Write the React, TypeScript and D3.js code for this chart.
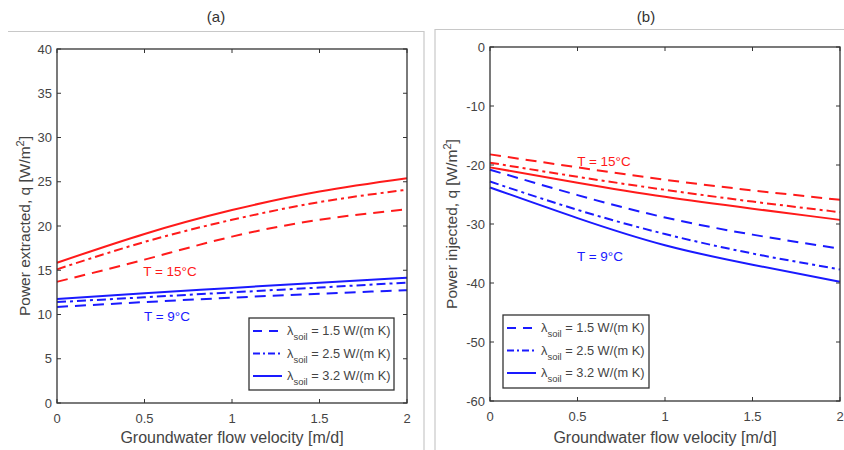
import React from 'react';
import * as d3 from 'd3';

const W = 844;
const H = 450;
const FONT = '"Liberation Sans", Arial, Helvetica, sans-serif';

const velocity = [0, 0.5, 1, 1.5, 2];
const lambdaLabels = ['1.5', '2.5', '3.2'];
const dashes = ['11,7', '9,4,3,4', null];

// panel (a): power extracted [W/m2]
const extracted15 = [
  [13.7, 16.2, 18.8, 20.7, 21.9],
  [15.1, 18.2, 20.7, 22.7, 24.1],
  [15.85, 19.1, 21.8, 23.9, 25.4],
];
const extracted9 = [
  [10.85, 11.4, 11.9, 12.35, 12.75],
  [11.4, 11.95, 12.5, 13.05, 13.6],
  [11.75, 12.4, 13.0, 13.6, 14.15],
];

// panel (b): power injected [W/m2]
const injected15 = [
  [-18.2, -20.4, -22.5, -24.3, -25.9],
  [-19.6, -22.0, -24.2, -26.2, -28.0],
  [-20.4, -23.0, -25.4, -27.4, -29.3],
];
const injected9 = [
  [-20.8, -25.1, -28.9, -31.8, -34.2],
  [-22.8, -27.6, -31.7, -35.0, -37.7],
  [-23.8, -29.0, -33.6, -36.9, -39.8],
];

const xTicks = [0, 0.5, 1, 1.5, 2];
const yTicksA = [0, 5, 10, 15, 20, 25, 30, 35, 40];
const yTicksB = [0, -10, -20, -30, -40, -50, -60];

const RED = '#ff1a1a';
const BLUE = '#1a1aff';
const AXIS = '#333';
const TEXT = '#444';

type PanelProps = {
  title: string;
  titleX: number;
  box: { left: number; right: number; top: number; bottom: number };
  yDomain: [number, number];
  yTicks: number[];
  yLabel: string;
  yLabelX: number;
  hot: number[][];
  cold: number[][];
  hotLabel: { x: number; y: number };
  coldLabel: { x: number; y: number };
  legend: { x: number; y: number; w: number; h: number };
};

function Panel(p: PanelProps) {
  const { left, right, top, bottom } = p.box;
  const x = d3.scaleLinear().domain([0, 2]).range([left, right]);
  const y = d3.scaleLinear().domain(p.yDomain).range([bottom, top]);
  const line = d3
    .line<number>()
    .x((_, i) => x(velocity[i]))
    .y(d => y(d))
    .curve(d3.curveNatural);
  const tick = 4;
  const midY = (top + bottom) / 2;

  return (
    <g fontFamily={FONT}>
      <text x={p.titleX} y={22} textAnchor="middle" fontSize={15} fill="#333">
        {p.title}
      </text>

      {p.hot.map((s, i) => (
        <path key={'h' + i} d={line(s) || ''} fill="none" stroke={RED} strokeWidth={2}
          strokeDasharray={dashes[i] || undefined} />
      ))}
      {p.cold.map((s, i) => (
        <path key={'c' + i} d={line(s) || ''} fill="none" stroke={BLUE} strokeWidth={2}
          strokeDasharray={dashes[i] || undefined} />
      ))}

      <rect x={left} y={top} width={right - left} height={bottom - top} fill="none" stroke={AXIS} strokeWidth={1.3} />

      {xTicks.map(t => (
        <g key={'x' + t}>
          <line x1={x(t)} x2={x(t)} y1={bottom} y2={bottom - tick} stroke={AXIS} />
          <line x1={x(t)} x2={x(t)} y1={top} y2={top + tick} stroke={AXIS} />
          <text x={x(t)} y={bottom + 20} textAnchor="middle" fontSize={13} fill={TEXT}>
            {t}
          </text>
        </g>
      ))}
      {p.yTicks.map(t => (
        <g key={'y' + t}>
          <line x1={left} x2={left + tick} y1={y(t)} y2={y(t)} stroke={AXIS} />
          <line x1={right} x2={right - tick} y1={y(t)} y2={y(t)} stroke={AXIS} />
          <text x={left - 5} y={y(t) + 4.5} textAnchor="end" fontSize={13} fill={TEXT}>
            {t}
          </text>
        </g>
      ))}

      <text x={(left + right) / 2} y={443} textAnchor="middle" fontSize={16} fill={TEXT}>
        Groundwater flow velocity [m/d]
      </text>
      <text transform={`translate(${p.yLabelX},${midY}) rotate(-90)`} textAnchor="middle" fontSize={15.5} fill={TEXT}>
        {p.yLabel}, q [W/m<tspan dy={-6} fontSize={11}>2</tspan><tspan dy={6}>]</tspan>
      </text>

      <text x={p.hotLabel.x} y={p.hotLabel.y} textAnchor="middle" fontSize={13.5} fill={RED}>
        T = 15°C
      </text>
      <text x={p.coldLabel.x} y={p.coldLabel.y} textAnchor="middle" fontSize={13.5} fill={BLUE}>
        T = 9°C
      </text>

      <g transform={`translate(${p.legend.x},${p.legend.y})`}>
        <rect width={p.legend.w} height={p.legend.h} fill="#fff" stroke={AXIS} strokeWidth={1.3} />
        {lambdaLabels.map((lab, i) => {
          const ry = 13 + i * 22.5;
          return (
            <g key={lab}>
              <line x1={4} x2={33} y1={ry} y2={ry} stroke={BLUE} strokeWidth={2}
                strokeDasharray={i === 0 ? '9,7' : i === 1 ? '7,3,2,3' : undefined} />
              <text x={38} y={ry + 4} fontSize={12.8} fill={TEXT}>
                λ<tspan dy={5} fontSize={9.5}>soil</tspan>
                <tspan dy={-5}> = {lab} W/(m K)</tspan>
              </text>
            </g>
          );
        })}
      </g>
    </g>
  );
}

export default function App() {
  return (
    <svg width={W} height={H} style={{ position: 'absolute', left: 0, top: 0, background: '#fff' }}>
      <rect width={W} height={H} fill="#fff" />
      {/* panel frames */}
      <polyline points="8,31.5 424,31.5 424,450" fill="none" stroke="#c8c8c8" strokeWidth={1.2} />
      <polyline points="435,450 435,29.5 844,29.5" fill="none" stroke="#c8c8c8" strokeWidth={1.2} />

      <Panel
        title="(a)"
        titleX={216}
        box={{ left: 57, right: 407, top: 49, bottom: 403 }}
        yDomain={[0, 40]}
        yTicks={yTicksA}
        yLabel="Power extracted"
        yLabelX={30}
        hot={extracted15}
        cold={extracted9}
        hotLabel={{ x: 170, y: 275.5 }}
        coldLabel={{ x: 167, y: 320.5 }}
        legend={{ x: 249, y: 318, w: 145, h: 72 }}
      />
      <Panel
        title="(b)"
        titleX={646}
        box={{ left: 490, right: 840, top: 47, bottom: 401 }}
        yDomain={[-60, 0]}
        yTicks={yTicksB}
        yLabel="Power injected"
        yLabelX={457}
        hot={injected15}
        cold={injected9}
        hotLabel={{ x: 604, y: 166 }}
        coldLabel={{ x: 600, y: 260.5 }}
        legend={{ x: 503, y: 315, w: 146, h: 73 }}
      />
    </svg>
  );
}
